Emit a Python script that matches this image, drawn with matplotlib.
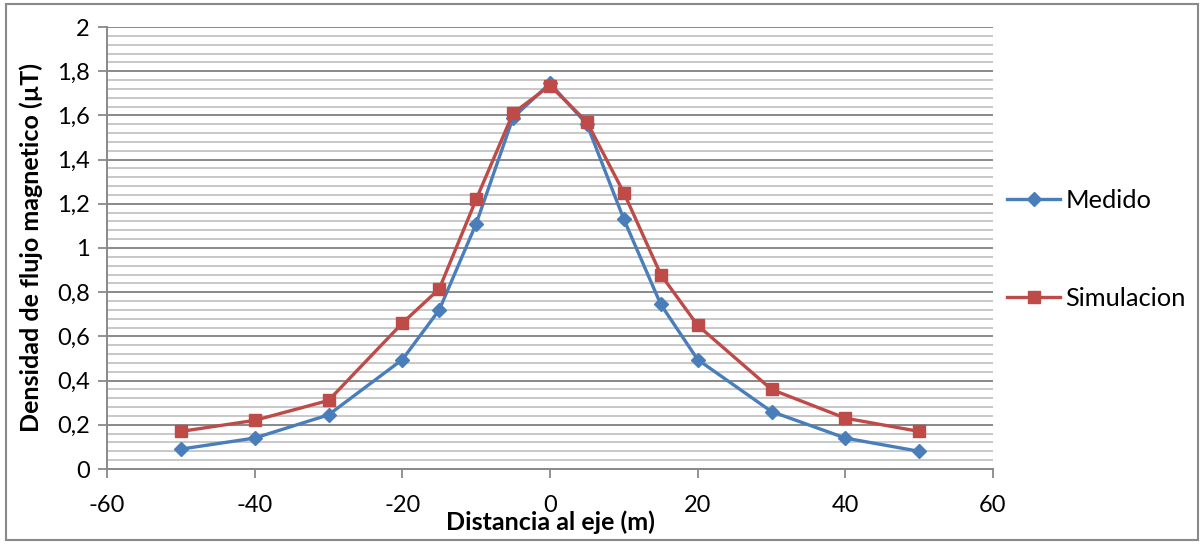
import matplotlib
matplotlib.use("Agg")
import matplotlib.pyplot as plt
from matplotlib.ticker import MultipleLocator, FuncFormatter
from matplotlib.patches import Rectangle

distancia = [-50, -40, -30, -20, -15, -10, -5, 0, 5, 10, 15, 20, 30, 40, 50]
medido = [0.09, 0.14, 0.245, 0.495, 0.72, 1.11, 1.59, 1.745, 1.56, 1.13, 0.745, 0.495, 0.26, 0.14, 0.08]
simulacion = [0.17, 0.22, 0.31, 0.66, 0.815, 1.22, 1.61, 1.735, 1.57, 1.25, 0.88, 0.65, 0.36, 0.23, 0.17]

plt.rcParams['font.family'] = ['Lato', 'DejaVu Sans']
plt.rcParams['axes.unicode_minus'] = False

fig = plt.figure(figsize=(12, 5.44), dpi=100)
ax = fig.add_axes([107/1200, 1-469/544, (993-107)/1200, (469-27)/544])

ax.set_xlim(-60, 60)
ax.set_ylim(0, 2)
ax.xaxis.set_major_locator(MultipleLocator(20))
ax.yaxis.set_major_locator(MultipleLocator(0.2))
ax.yaxis.set_minor_locator(MultipleLocator(0.04))

def yfmt(v, pos):
    s = ('%.1f' % v)
    if s.endswith('.0'):
        s = s[:-2]
    return s.replace('.', ',')
ax.yaxis.set_major_formatter(FuncFormatter(yfmt))

ax.grid(True, which='minor', axis='y', color='#C4C4C4', linewidth=1.3, zorder=0)
ax.grid(True, which='major', axis='y', color='#898989', linewidth=1.4, zorder=0)
ax.set_axisbelow(True)

for s in ['top', 'right']:
    ax.spines[s].set_visible(False)
for s in ['left', 'bottom']:
    ax.spines[s].set_color('#898989')
    ax.spines[s].set_linewidth(1.4)

ax.tick_params(axis='both', which='major', direction='out', length=6.5, width=1.3,
               color='#898989', labelsize=17, labelcolor='black')
ax.tick_params(axis='y', which='minor', length=0)
ax.tick_params(axis='x', pad=12)
ax.tick_params(axis='y', pad=6)

ax.plot(distancia, medido, color='#4A7EBB', linewidth=2.4, marker='D', markersize=7.5,
        label='Medido', zorder=3)
ax.plot(distancia, simulacion, color='#BE4B48', linewidth=2.4, marker='s', markersize=8.5,
        label='Simulacion', zorder=4)

fig.text(550/1200, 1-522/544, 'Distancia al eje (m)', ha='center', va='center',
         fontsize=18, fontweight='bold')
fig.text(31/1200, 1-247/544, 'Densidad de flujo magnetico (µT)', ha='center', va='center',
         rotation=90, fontsize=18, fontweight='bold')

leg = fig.legend(loc='upper left', bbox_to_anchor=(1007/1200, 1-189/544), frameon=False,
                 fontsize=18.3, labelspacing=2.95, handlelength=2.1, handletextpad=0.2,
                 borderaxespad=0, borderpad=0)

fig.patches.append(Rectangle((6/1200, 4/544), (1198-6)/1200, (540-4)/544,
                             transform=fig.transFigure, fill=False,
                             edgecolor='#898989', linewidth=1.5))

fig.savefig('out.png', dpi=100)
